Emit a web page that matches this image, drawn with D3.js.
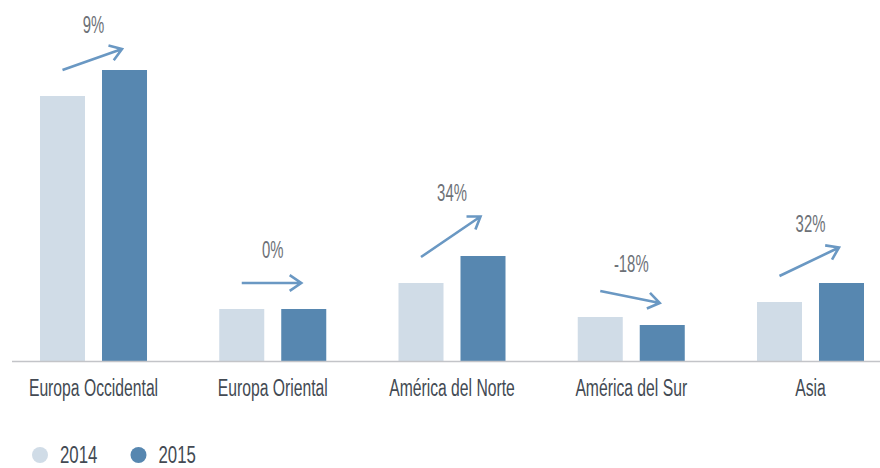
<!DOCTYPE html>
<html>
<head>
<meta charset="utf-8">
<script src="https://cdn.jsdelivr.net/npm/d3@7"></script>
<style>
  html, body { margin: 0; padding: 0; background: #ffffff; }
  svg { display: block; }
  text { font-family: "Liberation Sans", Arial, sans-serif; }
</style>
</head>
<body>
<svg id="chart" width="880" height="468"></svg>
<script>
// ---- data ----
const categories = ["Europa Occidental", "Europa Oriental", "América del Norte", "América del Sur", "Asia"];
const seriesNames = ["2014", "2015"];
const values2014 = [26.6, 5.3, 7.9, 4.5, 6.0];
const values2015 = [29.2, 5.3, 10.6, 3.7, 7.9];
const changeLabels = ["9%", "0%", "34%", "-18%", "32%"];

// ---- styles ----
const colors = { "2014": "#d0dce7", "2015": "#5787b0" };
const arrowColor = "#6a98c3";

const svg = d3.select("#chart");
const baseY = 362;

const x = d3.scaleBand().domain(categories).range([40, 864]).paddingInner(0.403).paddingOuter(0);
const xInner = d3.scaleBand().domain(seriesNames).range([0, x.bandwidth()]).paddingInner(0.274).paddingOuter(0);
const y = d3.scaleLinear().domain([0, d3.max(values2015.concat(values2014))]).range([baseY, 70]);

const rows = categories.map((c, i) => ({ cat: c, v: { "2014": values2014[i], "2015": values2015[i] }, label: changeLabels[i] }));

// bars
const groups = svg.append("g").selectAll("g").data(rows).join("g")
  .attr("transform", d => `translate(${x(d.cat)},0)`);
groups.selectAll("rect").data(d => seriesNames.map(s => ({ s, v: d.v[s] }))).join("rect")
  .attr("x", d => xInner(d.s))
  .attr("width", xInner.bandwidth())
  .attr("y", d => y(d.v))
  .attr("height", d => baseY - y(d.v))
  .attr("fill", d => colors[d.s]);

// axis
const axis = svg.append("g").attr("transform", `translate(0,${baseY - 0.5})`)
  .call(d3.axisBottom(x).tickSize(0).tickPadding(17));
axis.select(".domain").attr("d", "M12,0H880").attr("stroke", "#c3c4c8").attr("stroke-width", 1.6);
axis.selectAll(".tick text")
  .attr("font-size", 24).attr("fill", "#434a53")
  .attr("font-family", "'Liberation Sans', Arial, sans-serif")
  .attr("transform", `scale(0.655,1)`);

// arrows
const arrowG = svg.append("g");
rows.forEach(d => {
  const gx = x(d.cat);
  const x0 = gx + xInner("2014") + xInner.bandwidth() / 2;
  const x1 = gx + x.bandwidth() - 25;
  const y0 = y(d.v["2014"]) - 26;
  const dpx = y(d.v["2014"]) - y(d.v["2015"]);
  const y1 = Math.max(y0 - dpx * 1.5, 49);
  const ang = Math.atan2(y1 - y0, x1 - x0);
  const L = 14, a = 0.6;
  const p1 = [x1 - L * Math.cos(ang - a), y1 - L * Math.sin(ang - a)];
  const p2 = [x1 - L * Math.cos(ang + a), y1 - L * Math.sin(ang + a)];
  arrowG.append("path")
    .attr("d", `M${x0},${y0}L${x1},${y1}M${p1[0]},${p1[1]}L${x1},${y1}L${p2[0]},${p2[1]}`)
    .attr("fill", "none").attr("stroke", arrowColor).attr("stroke-width", 2.6)
    .attr("stroke-linecap", "butt").attr("stroke-linejoin", "miter");
  const slope = Math.abs((y1 - y0) / (x1 - x0));
  const ly = Math.min(y0, y1) - 16 - Math.max(0, 9 - 30 * slope);
  svg.append("text")
    .attr("transform", `translate(${gx + x.bandwidth() / 2},${ly}) scale(0.62,1)`)
    .attr("text-anchor", "middle")
    .attr("font-size", 24)
    .attr("font-weight", 300)
    .attr("fill", "#6d7177")
    .text(d.label);
});

// legend
const legend = svg.append("g").attr("transform", "translate(40,455)");
seriesNames.forEach((s, i) => {
  const lg = legend.append("g").attr("transform", `translate(${i * 98.5},0)`);
  lg.append("circle").attr("r", 8).attr("fill", colors[s]);
  lg.append("text")
    .attr("transform", `translate(20,7.5) scale(0.7,1)`)
    .attr("font-size", 24).attr("fill", "#434a53")
    .text(s);
});
</script>
</body>
</html>
